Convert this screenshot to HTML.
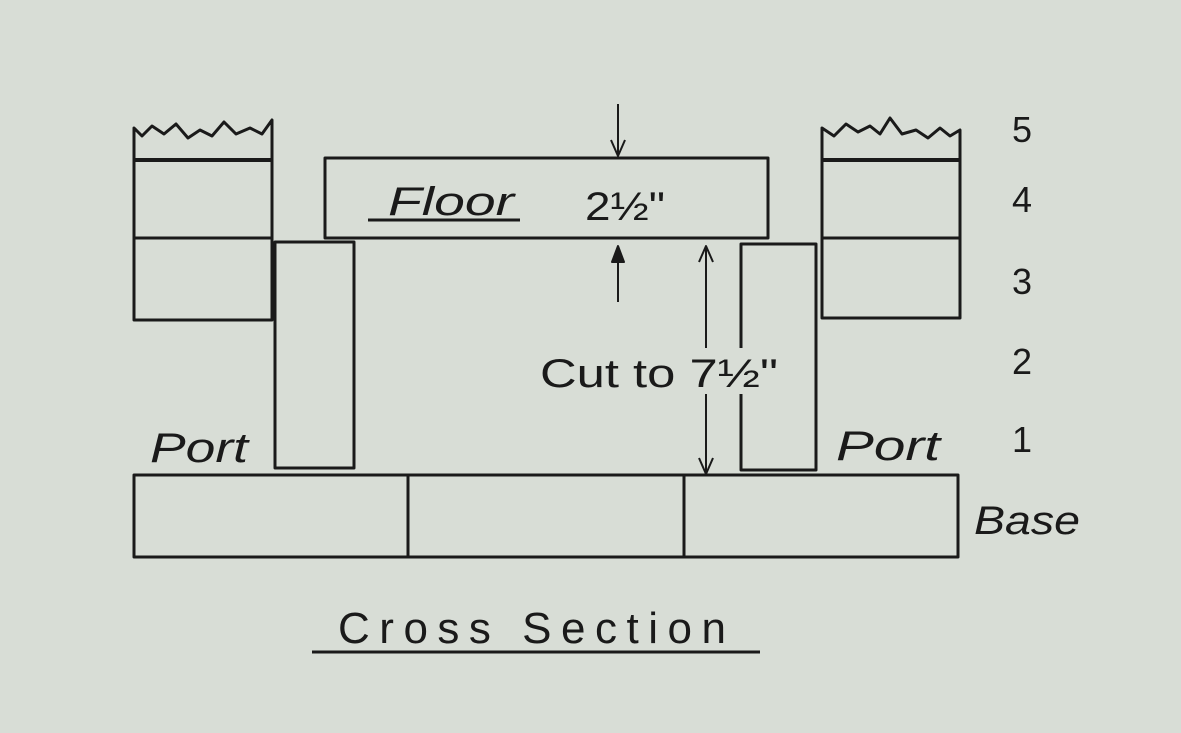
<!DOCTYPE html>
<html><head><meta charset="utf-8"><style>
html,body{margin:0;padding:0;background:#d8ddd6;}
svg{display:block}
text{font-family:"Liberation Sans",sans-serif;fill:#1a1a1a;}
</style></head><body>
<svg width="1181" height="733" viewBox="0 0 1181 733" xmlns="http://www.w3.org/2000/svg">
<rect width="1181" height="733" fill="#d8ddd6"/>
<g stroke="#1a1a1a" stroke-width="3" fill="none" stroke-linejoin="round">
<path d="M134 320 L134 128 L142 136 L152 126 L164 134 L176 124 L188 138 L200 130 L212 136 L224 122 L236 134 L250 128 L262 134 L272 120 L272 320 Z"/>
<line x1="134" y1="160" x2="272" y2="160" stroke-width="4"/>
<line x1="134" y1="238" x2="272" y2="238"/>
<path d="M822 318 L822 128 L834 136 L846 124 L858 132 L870 126 L880 134 L890 118 L902 134 L916 130 L928 138 L940 128 L950 136 L960 130 L960 318 Z"/>
<line x1="822" y1="160" x2="960" y2="160" stroke-width="4"/>
<line x1="822" y1="238" x2="960" y2="238"/>
<rect x="325" y="158" width="443" height="80"/>
<rect x="275" y="242" width="79" height="226"/>
<rect x="741" y="244" width="75" height="226"/>
<rect x="134" y="475" width="824" height="82"/>
<line x1="408" y1="475" x2="408" y2="557"/>
<line x1="684" y1="475" x2="684" y2="557"/>
<line x1="618" y1="104" x2="618" y2="156" stroke-width="2"/>
<path d="M611 140 L618 156 L625 140" stroke-width="2"/>
<line x1="618" y1="246" x2="618" y2="302" stroke-width="2"/>
<path d="M612 262 L618 246 L624 262 Z" fill="#1a1a1a" stroke-width="2"/>
<line x1="706" y1="246" x2="706" y2="474" stroke-width="2"/>
<path d="M699 262 L706 246 L713 262" stroke-width="2"/>
<path d="M699 458 L706 474 L713 458" stroke-width="2"/>
<line x1="368" y1="220" x2="520" y2="220"/>
<line x1="312" y1="652" x2="760" y2="652"/>
</g>
<text x="388" y="215" font-size="40" font-style="italic" textLength="126" lengthAdjust="spacingAndGlyphs">Floor</text>
<text x="585" y="220" font-size="40" textLength="80" lengthAdjust="spacingAndGlyphs">2½"</text>
<rect x="536" y="348" width="246" height="46" fill="#d8ddd6"/>
<text x="540" y="387" font-size="40" textLength="238" lengthAdjust="spacingAndGlyphs">Cut to 7½"</text>
<text x="150" y="462" font-size="42" font-style="italic" textLength="98" lengthAdjust="spacingAndGlyphs">Port</text>
<text x="836" y="460" font-size="42" font-style="italic" textLength="104" lengthAdjust="spacingAndGlyphs">Port</text>
<text x="1012" y="142" font-size="36">5</text>
<text x="1012" y="212" font-size="36">4</text>
<text x="1012" y="294" font-size="36">3</text>
<text x="1012" y="374" font-size="36">2</text>
<text x="1012" y="452" font-size="36">1</text>
<text x="974" y="534" font-size="40" font-style="italic" textLength="106" lengthAdjust="spacingAndGlyphs">Base</text>
<text x="338" y="643" font-size="44" textLength="388" lengthAdjust="spacing">Cross  Section</text>
</svg>
</body></html>
